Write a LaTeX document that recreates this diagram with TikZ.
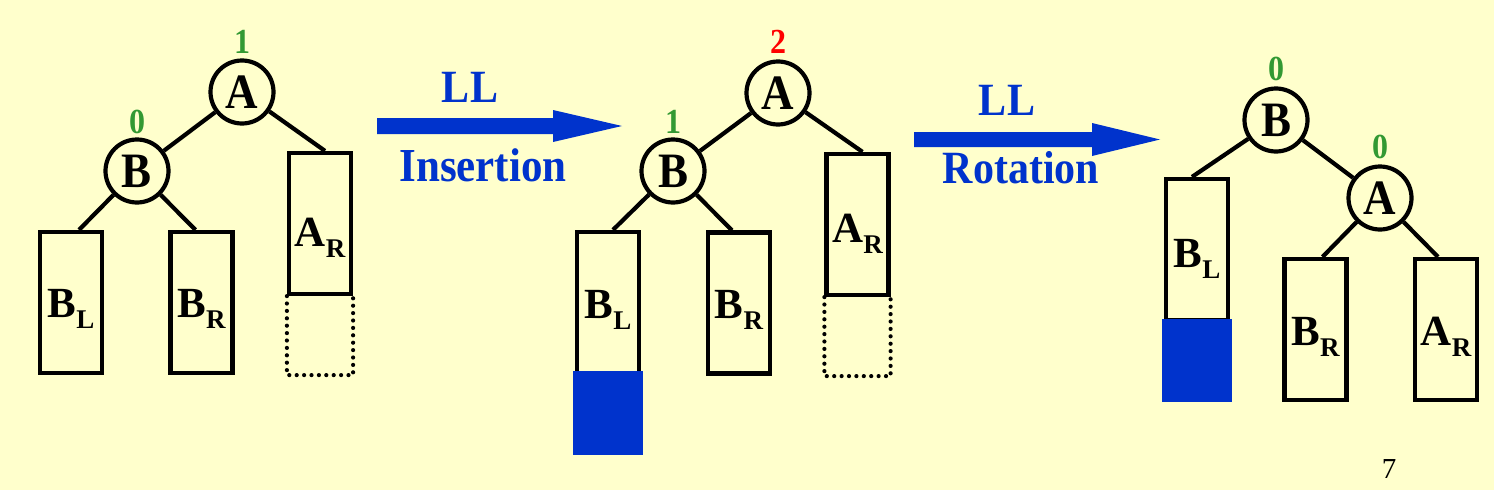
\documentclass[tikz,border=0pt]{standalone}
\usepackage{fontspec}
\usepackage{graphicx}
\setmainfont{Liberation Serif}
\definecolor{bgyellow}{HTML}{FFFFCC}
\definecolor{fillblue}{HTML}{0033CC}
\definecolor{txtblue}{HTML}{0033CC}
\definecolor{balgreen}{HTML}{339933}
\definecolor{balred}{HTML}{FF0000}
\newcommand\mysub[1]{\raisebox{-11pt}{\fontsize{27}{27}\selectfont #1}}
\newcommand\tallish[1]{\scalebox{1}[1.1]{#1}}
\begin{document}
\begin{tikzpicture}[x=1pt,y=-1pt,
  treenode/.style={circle, draw, line width=4.2pt, minimum size=63pt, inner sep=0pt,
    font=\fontsize{45}{45}\selectfont\bfseries},
  subtree/.style={draw, line width=4.2pt, minimum width=62pt, minimum height=141pt, inner sep=0pt},
  treelabel/.style={anchor=base, inner sep=0pt, font=\fontsize{43}{43}\selectfont\bfseries},
  balance/.style={anchor=base, inner sep=0pt, font=\fontsize{32}{32}\selectfont\bfseries},
  growth/.style={fill=fillblue, draw=none, minimum width=70pt, inner sep=0pt, anchor=north},
  edge/.style={line width=4.2pt},
  missing/.style={line width=4.2pt, dash pattern=on 0pt off 7.4pt, line cap=round},
  arrowtext/.style={anchor=base, inner sep=0pt, text=txtblue, font=\fontsize{42}{42}\selectfont\bfseries}
]
\fill[bgyellow] (0,0) rectangle (1494,490);
\useasboundingbox (0,0) rectangle (1494,490);

% ---------- tree 1 ----------
\node[treenode] (A1) at (242,92) {\tallish{A}};
\node[treenode] (B1) at (137,171) {\tallish{B}};
\node[balance, text=balgreen] (nA1) at (242,53) {\tallish{1}};
\node[balance, text=balgreen] (nB1) at (137,133) {\tallish{0}};
\node[subtree] (BL1) at (71,302.5) {};
\node[subtree] (BR1) at (201.5,302.5) {};
\node[subtree] (AR1) at (320,223.5) {};
\node[treelabel] (tBL1) at (71,317) {B\mysub{L}};
\node[treelabel] (tBR1) at (201.5,317) {B\mysub{R}};
\node[treelabel] (tAR1) at (320,246) {A\mysub{R}};
\draw[missing] (AR1.south west) -- ++(0,79) -| (AR1.south east);
\draw[edge] (A1) -- (B1);
\draw[edge] (A1) -- ([xshift=5pt]AR1.north);
\draw[edge] (B1) -- ([xshift=8pt]BL1.north);
\draw[edge] (B1) -- ([xshift=-6pt]BR1.north);

% ---------- arrow 1 ----------
\coordinate (s1) at (377,126);
\fill[fillblue] (s1) ++(0,-8) -- ++(176,0) -- ++(0,-8) -- ++(69,16) -- ++(-69,16)
  -- ++(0,-8) -- ++(-176,0) -- cycle;
\node[arrowtext] (LL1) at (470,102) {\tallish{LL}};
\node[arrowtext, font=\fontsize{43}{43}\selectfont\bfseries] (ins) at (483,181) {\tallish{Insertion}};

% ---------- tree 2 ----------
\node[treenode] (A2) at (778,93) {\tallish{A}};
\node[treenode] (B2) at (673,171) {\tallish{B}};
\node[balance, text=balred] (nA2) at (778,53) {\tallish{2}};
\node[balance, text=balgreen] (nB2) at (673,133) {\tallish{1}};
\node[subtree] (BL2) at (608,302.5) {};
\node[growth, minimum height=84pt] (gBL2) at (608,371) {};
\node[subtree] (BR2) at (739,303) {};
\node[subtree] (AR2) at (857.5,224.5) {};
\node[treelabel] (tBL2) at (608,318) {B\mysub{L}};
\node[treelabel] (tBR2) at (739,318) {B\mysub{R}};
\node[treelabel] (tAR2) at (857.5,242) {A\mysub{R}};
\draw[missing] (AR2.south west) -- ++(0,79) -| (AR2.south east);
\draw[edge] (A2) -- (B2);
\draw[edge] (A2) -- ([xshift=5pt]AR2.north);
\draw[edge] (B2) -- ([xshift=5pt]BL2.north);
\draw[edge] (B2) -- ([xshift=-7pt]BR2.north);

% ---------- arrow 2 ----------
\coordinate (s2) at (914,139.5);
\fill[fillblue] (s2) ++(0,-7.5) -- ++(178,0) -- ++(0,-9) -- ++(68,16.5) -- ++(-68,16.5)
  -- ++(0,-9) -- ++(-178,0) -- cycle;
\node[arrowtext] (LL2) at (1007,115) {\tallish{LL}};
\node[arrowtext] (rot) at (1021,183) {\tallish{Rotation}};

% ---------- tree 3 ----------
\node[treenode] (B3) at (1276,120) {\tallish{B}};
\node[treenode] (A3) at (1380,198) {\tallish{A}};
\node[balance, text=balgreen] (nB3) at (1276,80) {\tallish{0}};
\node[balance, text=balgreen] (nA3) at (1380,158) {\tallish{0}};
\node[subtree] (BL3) at (1197,249.5) {};
\node[growth, minimum height=83pt] (gBL3) at (1197,319) {};
\node[subtree] (BR3) at (1315.5,329.5) {};
\node[subtree] (AR3) at (1446,329.5) {};
\node[treelabel] (tBL3) at (1197,267) {B\mysub{L}};
\node[treelabel] (tBR3) at (1315.5,345) {B\mysub{R}};
\node[treelabel] (tAR3) at (1446,345) {A\mysub{R}};
\draw[edge] (B3) -- (A3);
\draw[edge] (B3) -- ([xshift=-5pt]BL3.north);
\draw[edge] (A3) -- ([xshift=7pt]BR3.north);
\draw[edge] (A3) -- ([xshift=-8pt]AR3.north);

% ---------- page number ----------
\node[anchor=base, inner sep=0pt, font=\fontsize{29}{29}\selectfont] (page) at (1389,478) {7};
\end{tikzpicture}
\end{document}
